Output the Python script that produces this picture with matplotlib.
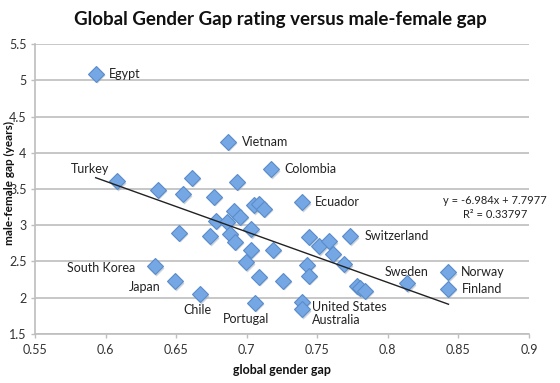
import matplotlib
matplotlib.use("Agg")
import matplotlib.pyplot as plt
import numpy as np

plt.rcParams['font.family'] = ['Lato', 'DejaVu Sans']

# data: global gender gap index vs male-female life expectancy gap
gap_index = [0.593, 0.608, 0.637, 0.655, 0.661, 0.677, 0.6865, 0.693, 0.717, 0.739,
             0.7055, 0.709, 0.712, 0.691, 0.695, 0.6785, 0.686, 0.703, 0.6517, 0.674,
             0.688, 0.692, 0.7033, 0.719, 0.6347, 0.6998, 0.7086, 0.6495, 0.667, 0.7056,
             0.7255, 0.744, 0.751, 0.7583, 0.761, 0.769, 0.7734, 0.7427, 0.744, 0.778,
             0.7805, 0.7835, 0.8136, 0.8426, 0.843, 0.7392, 0.7392]
life_gap = [5.09, 3.61, 3.49, 3.43, 3.655, 3.39, 4.155, 3.60, 3.77, 3.32,
            3.275, 3.30, 3.225, 3.195, 3.115, 3.06, 3.05, 2.945, 2.895, 2.85,
            2.88, 2.77, 2.66, 2.665, 2.435, 2.49, 2.29, 2.225, 2.045, 1.93,
            2.235, 2.842, 2.71, 2.78, 2.607, 2.465, 2.845, 2.452, 2.30, 2.16,
            2.13, 2.095, 2.199, 2.35, 2.125, 1.946, 1.84]
countries = ['Egypt', 'Turkey', '', '', '', '', 'Vietnam', '', 'Colombia', 'Ecuador',
             '', '', '', '', '', '', '', '', '', '',
             '', '', '', '', 'South Korea', '', '', 'Japan', 'Chile', 'Portugal',
             '', '', '', '', '', '', 'Switzerland', '', '', '',
             '', '', 'Sweden', 'Norway', 'Finland', 'United States', 'Australia']

slope = -6.984
intercept = 7.7977
x_ticks = [0.55, 0.6, 0.65, 0.7, 0.75, 0.8, 0.85, 0.9]
y_ticks = [1.5, 2, 2.5, 3, 3.5, 4, 4.5, 5, 5.5]
x_labels = ['0.55', '0.6', '0.65', '0.7', '0.75', '0.8', '0.85', '0.9']
y_labels = ['1.5', '2', '2.5', '3', '3.5', '4', '4.5', '5', '5.5']

# label placement (offset in pixels: dx, dy(down), ha)
label_pos = {
    'Egypt': (13, 0, 'left'),
    'Turkey': (-27, -12, 'center'),
    'Vietnam': (14, 0, 'left'),
    'Colombia': (14, 0, 'left'),
    'Ecuador': (13, 0, 'left'),
    'Switzerland': (14, 0, 'left'),
    'Sweden': (0, -11, 'center'),
    'Norway': (13, 0, 'left'),
    'Finland': (13, 0, 'left'),
    'United States': (10, 5, 'left'),
    'Australia': (10, 11, 'left'),
    'Portugal': (-9, 16, 'center'),
    'Chile': (-3, 16, 'center'),
    'Japan': (-15, 6, 'right'),
    'South Korea': (-19, 2, 'right'),
}

fig = plt.figure(figsize=(5.6, 3.83), dpi=100)
ax = fig.add_axes([0.0625, 0.128, 0.882, 0.757])

grid_c = '#bebebe'
ax.set_xlim(0.55, 0.9)
ax.set_ylim(1.5, 5.5)
ax.set_xticks(x_ticks)
ax.set_xticklabels(x_labels)
ax.set_yticks(y_ticks)
ax.set_yticklabels(y_labels)
ax.yaxis.grid(True, color=grid_c, lw=1.2)
ax.set_axisbelow(True)
for s in ['top', 'right']:
    ax.spines[s].set_visible(False)
for s in ['left', 'bottom']:
    ax.spines[s].set_color(grid_c)
    ax.spines[s].set_linewidth(1.2)
ax.tick_params(direction='out', length=3, width=1, color=grid_c,
               labelsize=9, labelcolor='#333333')
ax.tick_params(axis='x', pad=4)
ax.tick_params(axis='y', pad=3)

# shadow + markers
ax.plot(gap_index, life_gap, linestyle='none', marker='D', markersize=8.3,
        markerfacecolor='#9aa8b8', markeredgecolor='none', alpha=0.5,
        transform=ax.transData + matplotlib.transforms.ScaledTranslation(1/100, -1.5/100, fig.dpi_scale_trans),
        zorder=2)
ax.plot(gap_index, life_gap, linestyle='none', marker='D', markersize=8.3,
        markerfacecolor='#74a7e4', markeredgecolor='#5a8cca', markeredgewidth=0.8,
        zorder=3)

# trendline
xs = np.array([min(gap_index), max(gap_index)])
ax.plot(xs, slope * xs + intercept, color='#222222', lw=1.0, zorder=4)

for x, y, name in zip(gap_index, life_gap, countries):
    if not name:
        continue
    dx, dy, ha = label_pos[name]
    ax.annotate(name, xy=(x, y), xytext=(dx * 0.72, -dy * 0.72),
                textcoords='offset points', ha=ha, va='center',
                fontsize=9, color='#222222')

ax.text(0.876, 3.245, 'y = -6.984x + 7.7977\nR² = 0.33797', ha='center', va='center',
        fontsize=8, color='#222222', linespacing=1.25)

fig.text(0.5, 0.948, 'Global Gender Gap rating versus male-female gap',
         ha='center', va='center', fontsize=13.5, fontweight='bold', color='#111111')
ax.set_xlabel('global gender gap', fontsize=9, fontweight='bold', color='#111111', labelpad=6)
ax.set_ylabel('male-female gap (years)', fontsize=8.5, fontweight='bold', color='#111111')
ax.yaxis.set_label_coords(-0.0405, 0.52)

fig.savefig('out.png', dpi=100)
